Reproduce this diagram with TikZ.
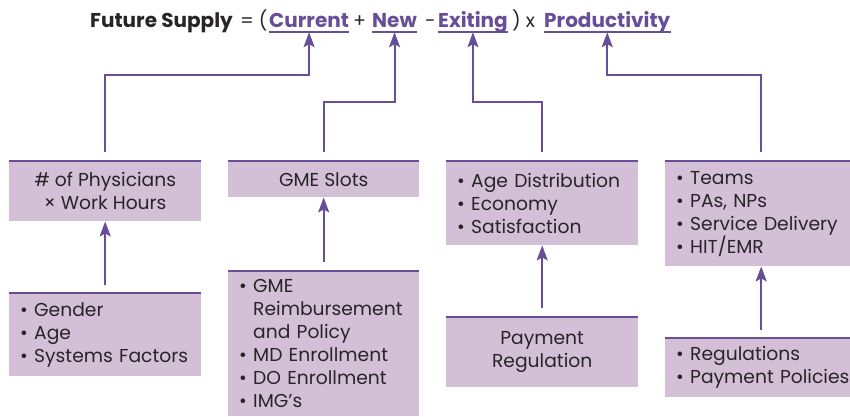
\documentclass[tikz,border=0pt]{standalone}
\usepackage{fontspec}
\setmainfont{Poppins}
\usetikzlibrary{arrows.meta}

\definecolor{boxfill}{RGB}{211,191,214}
\definecolor{edge}{RGB}{104,78,152}
\definecolor{ink}{RGB}{40,36,40}

% bullet line and continuation line, never broken
\newcommand\itm[1]{\mbox{\makebox[14pt][l]{\textbullet}#1}}
\newcommand\cnt[1]{\mbox{\hspace*{14pt}#1}}

\begin{document}
\begin{tikzpicture}[x=1pt,y=-1pt,
    box/.style={fill=boxfill,anchor=north west,inner sep=0pt,align=center,text=ink,
      font=\fontsize{18.7}{23}\selectfont},
    list/.style={box,align=left,inner xsep=11pt},
    word/.style={anchor=base west,inner xsep=0pt,inner ysep=2pt,text depth=3pt,
      text=ink,font=\fontsize{19}{20}\selectfont},
    key/.style={word,text=edge,font=\fontsize{20}{20}\selectfont\bfseries},
    rule/.style={edge,line width=2pt},
    link/.style={edge,line width=2pt,-{Stealth[length=15pt,width=11pt,inset=3pt]}}]
        \useasboundingbox (0,0) rectangle (850,416);

        % the equation
        \node[word,font=\fontsize{20}{20}\selectfont\bfseries] (fs) at (90,27) {Future Supply};
        \node[word] (eq) at (240,27) {= (};
        \node[key] (cur) at (269,27) {Current};
        \node[word] (pl) at (353,27) {+};
        \node[key] (new) at (372,27) {New};
        \node[word] (mi) at (425,27) {-};
        \node[key] (ex) at (438,27) {Exiting};
        \node[word] (ti) at (512,27) {) x};
        \node[key] (prod) at (544,27) {Productivity};
        \foreach \w in {cur,new,ex,prod}
          \draw[rule] (\w.south west) -- (\w.south east);

        % upper row
        \node[box,minimum width=192,minimum height=60] (b1) at (9,161) {\# of Physicians\\× Work Hours};
        \node[box,minimum width=191,minimum height=36] (b2) at (228,161) {GME Slots};
        \node[list,text width=170,minimum height=84] (b3) at (446,161)
          {\itm{Age Distribution}\\\itm{Economy}\\\itm{Satisfaction}};
        \node[list,text width=170,minimum height=105] (b4) at (665,161)
          {\itm{Teams}\\\itm{PAs, NPs}\\\itm{Service Delivery}\\\itm{HIT/EMR}};

        % lower row
        \node[list,text width=170,minimum height=83] (b5) at (9,293)
          {\itm{Gender}\\\itm{Age}\\\itm{Systems Factors}};
        \node[list,text width=169,minimum height=145] (b6) at (228,271)
          {\itm{GME}\\\cnt{Reimbursement}\\\cnt{and Policy}\\\itm{MD Enrollment}\\\itm{DO Enrollment}\\\itm{IMG’s}};
        \node[box,minimum width=192,minimum height=70] (b7) at (446,317) {Payment\\Regulation};
        \node[list,text width=170,minimum height=59] (b8) at (665,338)
          {\itm{Regulations}\\\itm{Payment Policies}};

        \foreach \b in {b1,b2,b3,b4,b5,b6,b7,b8}
          \draw[rule] (\b.north west) -- (\b.north east);

        \coordinate (hi) at (0,75);
        \coordinate (lo) at (0,102);

        \draw[link,shorten <=9pt] (b1.north) -- (b1.north |- hi) -| (cur.south);
        \draw[link,shorten <=9pt] (b2.north) -- (b2.north |- lo) -| (new.south);
        \draw[link,shorten <=9pt] (b3.north) -- (b3.north |- lo) -| (ex.south);
        \draw[link,shorten <=9pt] (b4.north) -- (b4.north |- hi) -| (prod.south);

        \draw[link,shorten <=8pt] (b5.north) -- (b1.south);
        \draw[link,shorten <=9pt] (b6.north) -- (b2.south);
        \draw[link,shorten <=9pt] (b7.north) -- (b3.south);
        \draw[link,shorten <=8pt] (b8.north) -- (b4.south);

      \end{tikzpicture}
\end{document}
